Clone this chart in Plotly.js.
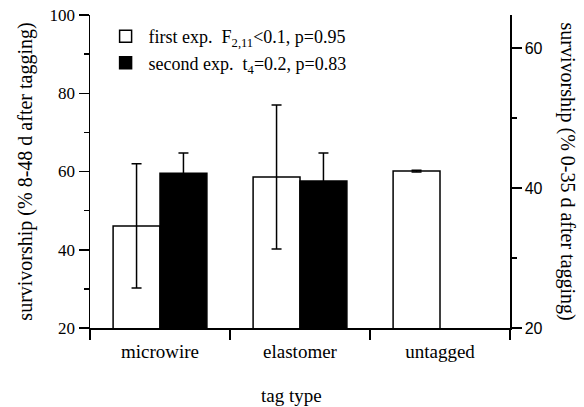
<!DOCTYPE html>
<html>
<head>
<meta charset="utf-8">
<script src="https://cdn.plot.ly/plotly-3.0.1.min.js"></script>
<style>html,body{margin:0;padding:0;background:#fff;}#chart{width:584px;height:407px;}</style>
</head>
<body>
<div id="chart"></div>
<script>
const categories = ["microwire", "elastomer", "untagged"];
// first experiment (left axis, % 8-48 d after tagging)
const firstExp = [46.1, 58.6, 60.1];
const firstErr = [15.9, 18.4, 0.2];
// second experiment (right axis, % 0-35 d after tagging)
const secondExp = [42.1, 41.0, null];
const secondErr = [2.9, 4.0, null];
const leftTicks = [20, 40, 60, 80, 100];
const rightTicks = [20, 40, 60];

const serif = "Liberation Serif";
const sans = "Liberation Sans";

const traces = [
  {
    type: "bar", x: categories, y: firstExp, name: "first exp.  F<sub>2,11</sub><0.1, p=0.95",
    offsetgroup: "a", yaxis: "y",
    marker: {color: "#ffffff", line: {color: "#000000", width: 1.5}},
    error_y: {type: "data", array: firstErr, visible: true, color: "#000000", thickness: 1.5, width: 5}
  },
  {
    type: "bar", x: categories, y: secondExp, name: "second exp.  t<sub>4</sub>=0.2, p=0.83",
    offsetgroup: "b", yaxis: "y2",
    marker: {color: "#000000", line: {color: "#000000", width: 1.5}},
    error_y: {type: "data", array: secondErr, visible: true, color: "#000000", thickness: 1.5, width: 5}
  }
];

const layout = {
  width: 584, height: 407,
  margin: {l: 90, r: 74, t: 15, b: 79},
  paper_bgcolor: "#ffffff", plot_bgcolor: "#ffffff",
  barmode: "group", bargap: 0.33, bargroupgap: 0,
  font: {family: serif, color: "#000000", size: 17},
  showlegend: true,
  legend: {x: 0.03, y: 0.99, xanchor: "left", yanchor: "top", bgcolor: "rgba(0,0,0,0)",
           itemwidth: 36,
           font: {family: serif, size: 18, color: "#000"}, traceorder: "normal"},
  xaxis: {
    type: "category", range: [-0.5, 2.5], showline: true, linecolor: "#000", linewidth: 1.5,
    ticks: "outside", tickson: "boundaries", ticklen: 10, tickwidth: 1.5, tickcolor: "#000",
    ticklabelstandoff: 6,
    tickfont: {family: serif, size: 19, color: "#000"}, showgrid: false, zeroline: false
  },
  yaxis: {
    range: [20, 100], tickvals: leftTicks, showline: true, linecolor: "#000", linewidth: 1.5,
    ticks: "outside", ticklen: 10, tickwidth: 1.5, tickcolor: "#000",
    minor: {dtick: 10, ticks: "outside", ticklen: 5, tickwidth: 1.5, tickcolor: "#000", showgrid: false},
    tickfont: {family: serif, size: 17, color: "#000"}, showgrid: false, zeroline: false,
    title: {text: "survivorship (% 8-48 d after tagging)", font: {family: serif, size: 20, color: "#000"}, standoff: 11}
  },
  yaxis2: {
    overlaying: "y", side: "right", range: [20, 64.714], tickvals: rightTicks,
    showline: true, linecolor: "#000", linewidth: 1.5,
    ticks: "outside", ticklen: 10, tickwidth: 1.5, tickcolor: "#000",
    minor: {dtick: 10, ticks: "outside", ticklen: 5, tickwidth: 1.5, tickcolor: "#000", showgrid: false},
    tickfont: {family: sans, size: 16, color: "#000"}, showgrid: false, zeroline: false
  },
  annotations: [
    {
      text: "survivorship (% 0-35 d after tagging)", xref: "paper", yref: "paper",
      x: 1, xshift: 57, xanchor: "center", yanchor: "middle", y: 0.5, textangle: 90, showarrow: false,
      font: {family: serif, size: 20, color: "#000"}
    },
    {
      text: "tag type", xref: "paper", yref: "paper",
      x: 0.5, xshift: -9, y: 0, yshift: -67, xanchor: "center", yanchor: "middle", showarrow: false,
      font: {family: serif, size: 19, color: "#000"}
    }
  ]
};

Plotly.newPlot("chart", traces, layout, {displayModeBar: false, staticPlot: true});
</script>
</body>
</html>
